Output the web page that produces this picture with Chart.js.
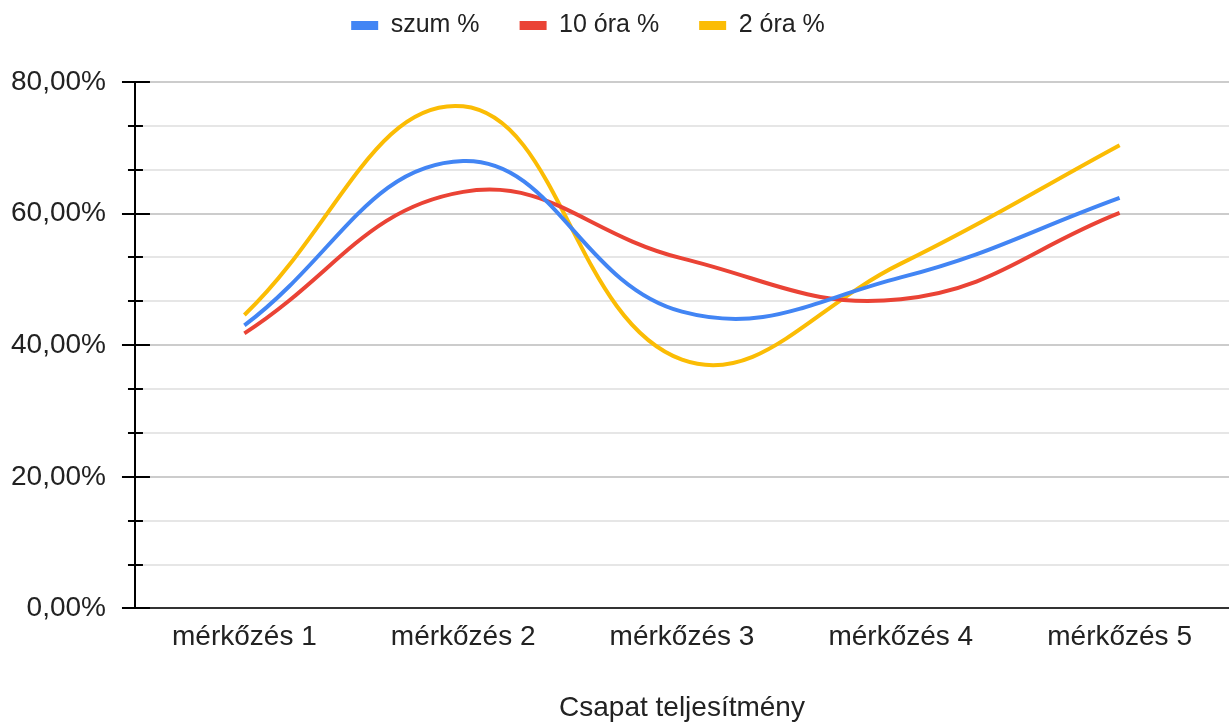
<!DOCTYPE html>
<html>
<head>
<meta charset="utf-8">
<script src="https://cdn.jsdelivr.net/npm/chart.js@4/dist/chart.umd.min.js"></script>
<style>
  html, body { margin: 0; padding: 0; background: #fff; overflow: hidden; }
  #frame { width: 1229px; height: 722px; overflow: hidden; position: relative; }
  #wrap { position: absolute; left: 0; top: -27px; width: 1229px; height: 749px; }
</style>
</head>
<body>
<div id="frame"><div id="wrap"><canvas id="perf_chart"></canvas></div></div>
<script>
const labels = ["mérkőzés 1", "mérkőzés 2", "mérkőzés 3", "mérkőzés 4", "mérkőzés 5"];
const szum = [43.0, 68.0, 45.1, 50.3, 62.4];
const ora10 = [41.8, 63.3, 53.2, 47.0, 60.1];
const ora2 = [44.6, 76.3, 37.8, 52.4, 70.4];
const yMax = 80;
const yStep = 20 / 3;

const font = "'Liberation Sans', Arial, sans-serif";
const isMajor = (v) => Math.abs(v / 20 - Math.round(v / 20)) < 0.01;

// black tick marks crossing the y axis, long on 20% steps, short between
const axisTicks = {
  id: "axisTicks",
  afterDraw(chart) {
    const y = chart.scales.y, ctx = chart.ctx, x0 = chart.chartArea.left;
    ctx.save();
    ctx.strokeStyle = "#000";
    ctx.lineWidth = 2;
    y.ticks.forEach((t) => {
      const py = Math.round(y.getPixelForValue(t.value));
      const major = isMajor(t.value);
      ctx.beginPath();
      ctx.moveTo(x0 - (major ? 13 : 7), py);
      ctx.lineTo(x0 + (major ? 15 : 8), py);
      ctx.stroke();
    });
    ctx.restore();
  },
};

// legend: more room below it, and sit a bit left of centre like the original
const legendRoom = {
  id: "legendRoom",
  beforeInit(chart) {
    const legend = chart.legend;
    if (!legend) return;
    const fit = legend.fit;
    legend.fit = function () {
      fit.call(this);
      this.height = 109;
    };
  },
  afterLayout(chart) {
    if (!chart.legend) return;
    chart.legend.left -= 24;
    chart.legend.right -= 24;
  },
};

const mkSet = (label, data, color) => ({
  label: label,
  data: data,
  borderColor: color,
  backgroundColor: color,
  borderWidth: 4,
  pointRadius: 0,
  tension: 0.42,
  fill: false,
});

let canvas = document.querySelector("#perf_chart");
new Chart(canvas, {
  type: "line",
  data: {
    labels: labels,
    datasets: [
      mkSet("szum %", szum, "#4285F4"),
      mkSet("10 óra %", ora10, "#EA4335"),
      mkSet("2 óra %", ora2, "#FBBC04"),
    ],
  },
  options: {
    responsive: true,
    maintainAspectRatio: false,
    animation: false,
    layout: { padding: { left: -5, right: 0, top: 0, bottom: 0 } },
    plugins: {
      tooltip: { enabled: false },
      legend: {
        position: "top",
        labels: {
          font: { family: font, size: 25 },
          color: "#222",
          boxWidth: 27,
          boxHeight: 9,
          padding: 40,
          generateLabels: (chart) =>
            Chart.defaults.plugins.legend.labels
              .generateLabels(chart)
              .map((l) => ({ ...l, lineWidth: 0 })),
        },
      },
    },
    scales: {
      x: {
        offset: true,
        grid: { display: false, drawTicks: false },
        border: { color: "#333", width: 2 },
        ticks: {
          font: { family: font, size: 28 },
          color: "#222",
          padding: 12,
          maxRotation: 0,
        },
        title: {
          display: true,
          text: "Csapat teljesítmény",
          font: { family: font, size: 28, lineHeight: 1.0 },
          color: "#222",
          padding: { top: 28, bottom: 0 },
        },
      },
      y: {
        min: 0,
        max: yMax,
        border: { color: "#000", width: 2 },
        grid: {
          color: (c) => (c.tick && isMajor(c.tick.value) ? "#cccccc" : "#e6e6e6"),
          lineWidth: 2,
          tickLength: 13,
          tickColor: "rgba(0,0,0,0)",
        },
        ticks: {
          stepSize: yStep,
          autoSkip: false,
          font: { family: font, size: 28 },
          color: "#222",
          padding: 16,
          callback: (v) => (isMajor(v) ? v.toFixed(2).replace(".", ",") + "%" : ""),
        },
      },
    },
  },
  plugins: [axisTicks, legendRoom],
});
</script>
</body>
</html>
